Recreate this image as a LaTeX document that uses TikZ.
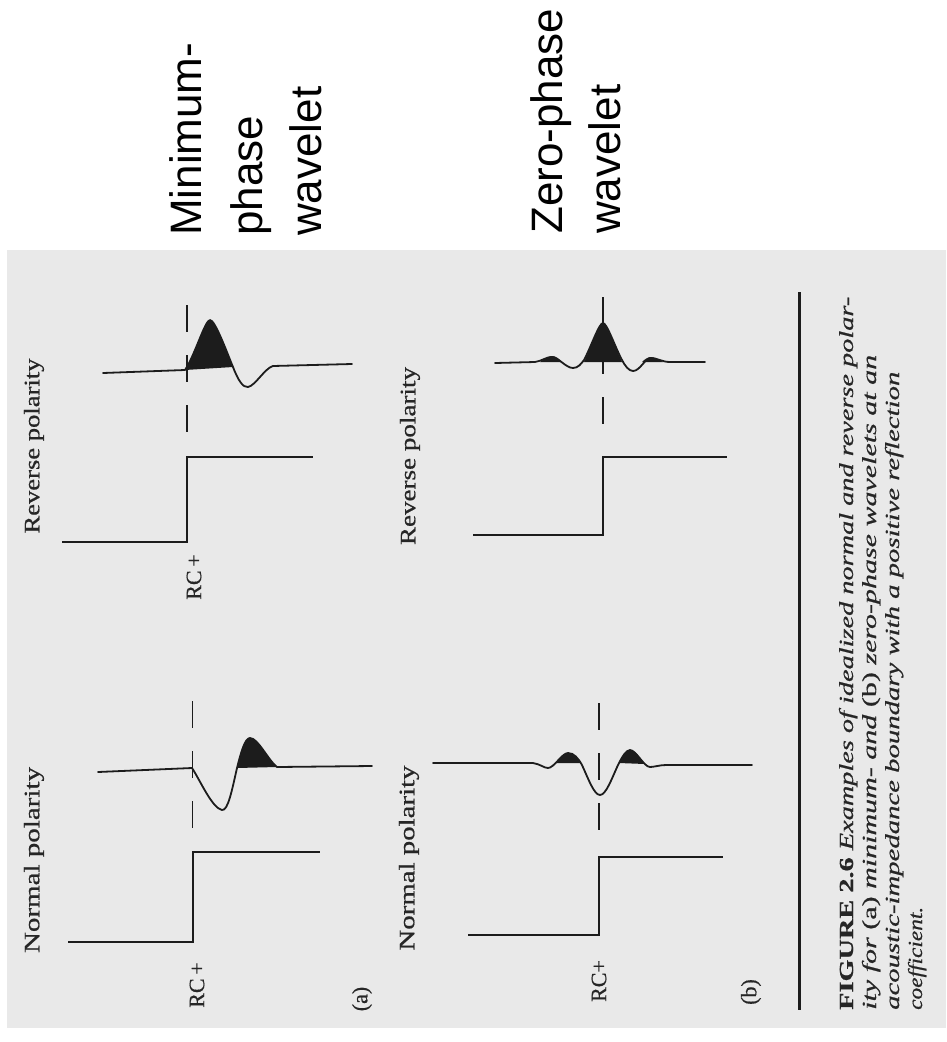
\documentclass[tikz,border=0pt]{standalone}
\usepackage{graphicx}
\usepackage{fontspec}
\newfontfamily\headsans{Liberation Sans}
\newfontfamily\printserif[FakeBold=0.6]{Liberation Serif}
% stretch a piece of text to a given length, keeping its height
\newcommand{\stretchto}[2]{\resizebox{#1}{\height}{#2}}
\definecolor{scanbg}{RGB}{233,233,233}
\definecolor{ink}{RGB}{28,28,28}
\definecolor{printtext}{RGB}{38,38,38}
\begin{document}
\begin{tikzpicture}[x=1pt,y=-1pt,
  headlabel/.style={font=\headsans\fontsize{44}{58}\selectfont, text=black, inner sep=0pt, rotate=90, anchor=base west},
  scantext/.style={font=\printserif\fontsize{22}{25}\selectfont, text=printtext, inner sep=0pt, rotate=90},
  captext/.style={font=\printserif\fontsize{20}{23}\selectfont, text=printtext, inner sep=0pt, rotate=90, anchor=base west},
  stepline/.style={draw=ink, line width=2.4pt, line join=miter},
  trace/.style={draw=ink, line width=1.8pt, line join=round, line cap=round},
  lobe/.style={fill=ink},
  rcmark/.style={draw=ink, line width=1.8pt, dash pattern=on 27pt off 23pt}]

\useasboundingbox (0,0) rectangle (946,1042);
\fill[white] (0,0) rectangle (946,1042);
\fill[scanbg] (7,250) rectangle (946,1028);

% headings
\node[headlabel] (minA) at (201,236) {Minimum-};
\node[headlabel] (minB) at (262,236) {phase};
\node[headlabel] (minC) at (321,236) {wavelet};
\node[headlabel] (zeroA) at (562,234) {Zero-phase};
\node[headlabel] (zeroB) at (620,234) {wavelet};

% ---------- (a) minimum phase, reverse polarity ----------
\node[scantext] (revA) at (34,446) {\stretchto{175pt}{Reverse polarity}};
\draw[stepline] (62,542) -- (187,542) -- (187,457) -- (313,457);
\node[scantext] (rcA1) at (194,577) {RC\,+};
\draw[rcmark] (187,305) -- (187,436);
\fill[lobe] (185,370) .. controls (195,355) and (205,320) .. (210,320)
  .. controls (215,320) and (226,350) .. (233,367) -- cycle;
\draw[trace] (103,373) -- (185,370) .. controls (195,355) and (205,320) .. (210,320)
  .. controls (215,320) and (226,350) .. (233,367)
  .. controls (238,380) and (243,388) .. (248,387)
  .. controls (255,386) and (265,368) .. (273,366) -- (352,364);

% ---------- (a) minimum phase, normal polarity ----------
\node[scantext] (norA) at (34,860) {\stretchto{186pt}{Normal polarity}};
\draw[stepline] (68,942) -- (193,942) -- (193,852) -- (320,852);
\node[scantext] (rcA2) at (197,985) {RC\,+};
\node[scantext] (tagA) at (362,999) {(a)};
\draw[rcmark] (192.5,701) -- (192.5,830);
\fill[lobe] (237,768) .. controls (241,752) and (245,738) .. (250,738)
  .. controls (258,738) and (268,760) .. (277,767) -- cycle;
\draw[trace] (98,772) -- (192,768) .. controls (200,780) and (212,808) .. (222,810)
  .. controls (228,811) and (232,790) .. (237,768)
  .. controls (241,752) and (245,738) .. (250,738)
  .. controls (258,738) and (268,760) .. (277,767) -- (372,766);

% ---------- (b) zero phase, reverse polarity ----------
\node[scantext] (revB) at (410,456) {\stretchto{178pt}{Reverse polarity}};
\draw[stepline] (473,535) -- (603,535) -- (603,457) -- (727,457);
\draw[rcmark] (603,297) -- (603,430);
\fill[lobe] (584,362) .. controls (591,347) and (599,323) .. (603,323)
  .. controls (607,323) and (615,347) .. (622,362) -- cycle;
\fill[lobe] (540,362) .. controls (545,358) and (549,356) .. (552,356)
  .. controls (556,356) and (559,359) .. (562,362) -- cycle;
\fill[lobe] (642,362) .. controls (645,359) and (648,357) .. (651,357)
  .. controls (655,357) and (659,360) .. (663,362) -- cycle;
\draw[trace] (495,363) -- (535,362) .. controls (542,361) and (546,357) .. (552,357)
  .. controls (558,357) and (566,368) .. (573,368)
  .. controls (578,368) and (581,364) .. (584,360)
  .. controls (591,347) and (599,323) .. (603,323)
  .. controls (607,323) and (615,347) .. (622,360)
  .. controls (625,366) and (629,371) .. (633,371)
  .. controls (640,371) and (645,358) .. (651,358)
  .. controls (657,358) and (662,362) .. (670,362) -- (705,362);

% ---------- (b) zero phase, normal polarity ----------
\node[scantext] (norB) at (409,858) {\stretchto{185pt}{Normal polarity}};
\draw[stepline] (468,935) -- (599,935) -- (599,857) -- (723,857);
\node[scantext] (rcB) at (599,981) {RC+};
\node[scantext] (tagB) at (751,992) {(b)};
\draw[rcmark] (599,703) -- (599,835);
\fill[lobe] (556,763) .. controls (560,758) and (564,753) .. (568,753)
  .. controls (573,753) and (577,758) .. (581,763) -- cycle;
\fill[lobe] (619,763) .. controls (623,757) and (626,750) .. (630,750)
  .. controls (636,750) and (641,760) .. (645,764) -- cycle;
\draw[trace] (433,763) -- (533,763) .. controls (540,764) and (544,768) .. (548,768)
  .. controls (554,768) and (562,753) .. (568,753)
  .. controls (574,753) and (578,758) .. (582,765)
  .. controls (588,778) and (594,795) .. (600,795)
  .. controls (606,795) and (612,778) .. (618,765)
  .. controls (622,757) and (626,750) .. (630,750)
  .. controls (636,750) and (644,767) .. (650,767)
  .. controls (654,767) and (660,765) .. (666,765) -- (752,765);

% rule above the caption
\draw[ink, line width=3pt] (799,292) -- (799,1010);

% caption
\node[captext] (capA) at (853,1010) {\stretchto{713pt}{\textbf{FIGURE 2.6} \textit{Examples of idealized normal and reverse polar-}}};
\node[captext] (capB) at (876,1010) {\stretchto{655pt}{\textit{ity for} (a) \textit{minimum- and} (b) \textit{zero-phase wavelets at an}}};
\node[captext] (capC) at (899,1010) {\stretchto{638pt}{\textit{acoustic-impedance boundary with a positive reflection}}};
\node[captext] (capD) at (922,1010) {\stretchto{103pt}{\textit{coefficient.}}};
\end{tikzpicture}
\end{document}
